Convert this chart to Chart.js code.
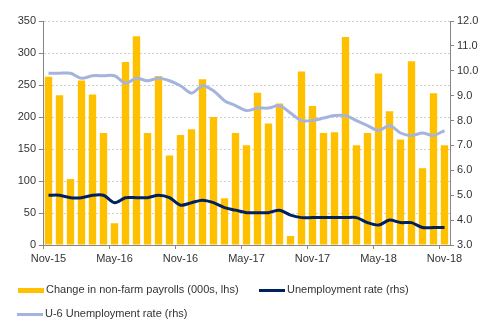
<!DOCTYPE html>
<html>
<head>
<meta charset="utf-8">
<script src="https://cdn.jsdelivr.net/npm/chart.js@4/dist/chart.umd.min.js"></script>
<style>
  body { margin: 0; background: #fff; }
  #wrap { position: relative; width: 488px; height: 325px; }
  #legend { position: absolute; left: 0; top: 0; width: 488px; height: 325px; pointer-events: none;
    font-family: "Liberation Sans", Arial, sans-serif; font-size: 11px; color: #333; }
  .item { position: absolute; white-space: nowrap; line-height: 12px; }
  .sw { display: inline-block; width: 26px; vertical-align: middle; margin-right: 2px; }
</style>
</head>
<body>
<div id="wrap">
  <canvas id="c" width="488" height="325"></canvas>
  <div id="legend">
    <div class="item" style="left:18px; top:283px;"><span class="sw" style="height:5px;background:#FFC000;"></span>Change in non-farm payrolls (000s, lhs)</div>
    <div class="item" style="left:259px; top:283px;"><span class="sw" style="height:3px;background:#002060;"></span>Unemployment rate (rhs)</div>
    <div class="item" style="left:17px; top:307px;"><span class="sw" style="height:3px;background:#A5B4DE;"></span>U-6 Unemployment rate (rhs)</div>
  </div>
</div>
<script>
// =========================
// 数据
// =========================
const months = [
  'Nov-15','Dec-15','Jan-16','Feb-16','Mar-16','Apr-16','May-16','Jun-16','Jul-16','Aug-16','Sep-16','Oct-16',
  'Nov-16','Dec-16','Jan-17','Feb-17','Mar-17','Apr-17','May-17','Jun-17','Jul-17','Aug-17','Sep-17','Oct-17',
  'Nov-17','Dec-17','Jan-18','Feb-18','Mar-18','Apr-18','May-18','Jun-18','Jul-18','Aug-18','Sep-18','Oct-18',
  'Nov-18'
];
const payrolls = [
  263, 234, 103, 257, 235, 175, 34, 286, 326, 175, 264, 140,
  172, 181, 259, 200, 73, 175, 156, 238, 190, 221, 14, 271,
  217, 175, 176, 325, 156, 175, 268, 209, 165, 287, 120, 237,
  156
];
const unemployment = [
  5.0, 5.0, 4.9, 4.9, 5.0, 5.0, 4.7, 4.9, 4.9, 4.9, 5.0, 4.9,
  4.6, 4.7, 4.8, 4.7, 4.5, 4.4, 4.3, 4.3, 4.3, 4.4, 4.2, 4.1,
  4.1, 4.1, 4.1, 4.1, 4.1, 3.9, 3.8, 4.0, 3.9, 3.9, 3.7, 3.7,
  3.7
];
const u6 = [
  9.9, 9.9, 9.9, 9.7, 9.8, 9.8, 9.8, 9.5, 9.7, 9.6, 9.7, 9.6,
  9.4, 9.1, 9.4, 9.2, 8.8, 8.6, 8.4, 8.5, 8.5, 8.6, 8.3, 8.0,
  8.0, 8.1, 8.2, 8.2, 8.0, 7.8, 7.6, 7.8, 7.5, 7.4, 7.5, 7.4,
  7.6
];
const leftTicks = [0, 350, 50];   // min, max, step
const rightTicks = [3, 12, 1];

// =========================
// 图表
// =========================
const axisGrey = '#868686';
const font = { family: '"Liberation Sans", Arial, sans-serif', size: 11 };

new Chart(document.getElementById('c'), {
  data: {
    labels: months,
    datasets: [
      {
        type: 'line', data: unemployment, yAxisID: 'y1', order: 1,
        borderColor: '#002060', borderWidth: 3, pointRadius: 0, tension: 0.3
      },
      {
        type: 'line', data: u6, yAxisID: 'y1', order: 2,
        borderColor: '#A5B4DE', borderWidth: 3, pointRadius: 0, tension: 0.3
      },
      {
        type: 'bar', data: payrolls, yAxisID: 'y', order: 3,
        backgroundColor: '#FFC000', categoryPercentage: 1, barPercentage: 0.67
      }
    ]
  },
  options: {
    responsive: false,
    animation: false,
    layout: { padding: { top: 21, bottom: 55, left: 0, right: 0 } },
    plugins: { legend: { display: false }, tooltip: { enabled: false } },
    scales: {
      x: {
        offset: true,
        grid: {
          offset: true, drawOnChartArea: false, tickLength: 4,
          color: ctx => (ctx.index % 6 === 0 ? axisGrey : 'rgba(0,0,0,0)')
        },
        border: { color: axisGrey },
        ticks: {
          autoSkip: false, maxRotation: 0, color: '#333', font: font, padding: 3,
          callback: (v, i) => (i % 6 === 0 ? months[i] : '')
        },
        afterFit: s => { s.height = 25; }
      },
      y: {
        position: 'left', min: leftTicks[0], max: leftTicks[1],
        ticks: { stepSize: leftTicks[2], color: '#333', font: font, padding: 3 },
        grid: { color: '#CFCFCF', tickColor: axisGrey, tickLength: 4, tickBorderDash: [] },
        border: { color: axisGrey, dash: [2, 2] },
        afterFit: s => { s.width = 43; }
      },
      y1: {
        position: 'right', min: rightTicks[0], max: rightTicks[1],
        ticks: { stepSize: rightTicks[2], color: '#333', font: font, padding: 3, callback: v => v.toFixed(1) },
        grid: { drawOnChartArea: false, tickColor: axisGrey, tickLength: 4 },
        border: { color: axisGrey },
        afterFit: s => { s.width = 38; }
      }
    }
  }
});
</script>
</body>
</html>
